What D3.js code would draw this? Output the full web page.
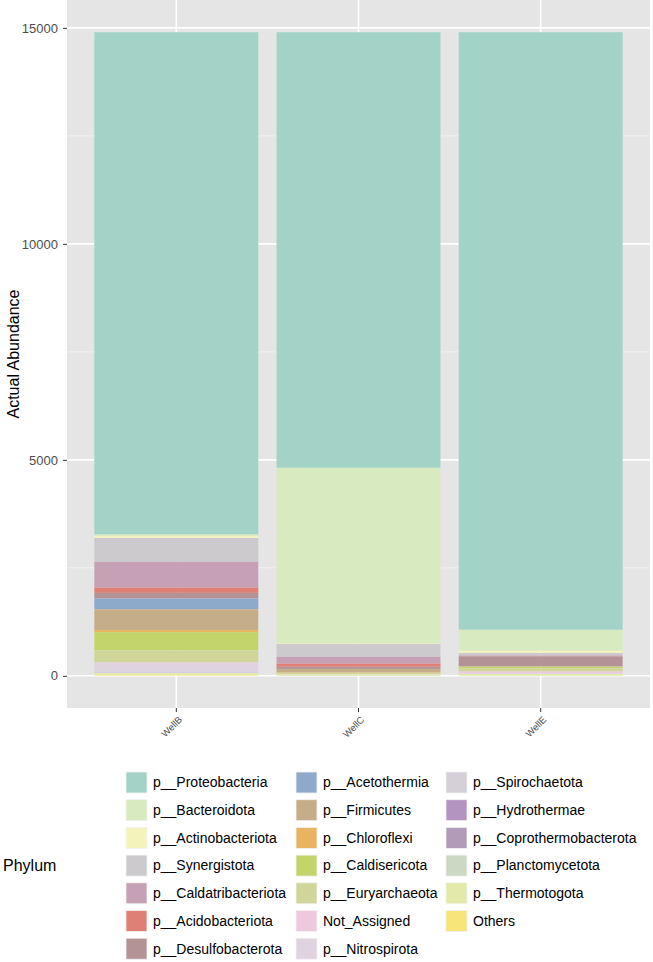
<!DOCTYPE html>
<html>
<head>
<meta charset="utf-8">
<script src="https://cdn.jsdelivr.net/npm/d3@7"></script>
<style>
  body { margin: 0; background: #fff; }
  svg text { font-family: "Liberation Sans", Arial, sans-serif; }
</style>
</head>
<body>
<svg id="drawing_region"></svg>
<script>
// samples along the x axis
const wells = ['WellB', 'WellC', 'WellE'];

// phyla, in legend order (first one is stacked on top)
const phyla = [
    'p__Proteobacteria', 'p__Bacteroidota', 'p__Actinobacteriota', 'p__Synergistota',
    'p__Caldatribacteriota', 'p__Acidobacteriota', 'p__Desulfobacterota', 'p__Acetothermia',
    'p__Firmicutes', 'p__Chloroflexi', 'p__Caldisericota', 'p__Euryarchaeota',
    'Not_Assigned', 'p__Nitrospirota', 'p__Spirochaetota', 'p__Hydrothermae',
    'p__Coprothermobacterota', 'p__Planctomycetota', 'p__Thermotogota', 'Others'
];

// abundance per phylum (same order as phyla)
const wellB = [11630, 40, 40, 550, 600, 120, 130, 250, 480, 50, 420, 280, 10, 200, 40, 0, 0, 0, 50, 10];
const wellC = [10085, 4055, 20, 300, 160, 70, 50, 0, 80, 10, 0, 30, 0, 10, 0, 0, 0, 0, 30, 0];
const wellE = [13835, 485, 50, 60, 10, 10, 230, 0, 10, 0, 40, 70, 40, 20, 0, 0, 0, 0, 40, 0];

const yTicks = [0, 5000, 10000, 15000];
const yMinor = [2500, 7500, 12500];

const phylumColors = [
    '#a3d3c7', '#d8ebc0', '#f4f3bc', '#cccacd',
    '#c6a1b6', '#e07f75', '#b39396', '#8eaacb',
    '#c5ad8a', '#e8b462', '#c3d46b', '#d0d699',
    '#eec8dd', '#e0d3e0', '#d4cfd8', '#b593c1',
    '#b29bb8', '#ccd8c4', '#e2e9a9', '#f8e57a'
];

const wellValues = [wellB, wellC, wellE];
const table = wells.map((w, i) => {
    const row = { well: w };
    phyla.forEach((p, j) => { row[p] = wellValues[i][j]; });
    return row;
});

const config = {
    width: 653,
    height: 962,
    panel: { left: 67, top: 0, width: 583, height: 708 }
};

const svg = d3.select('#drawing_region')
    .attr('width', config.width)
    .attr('height', config.height);

const P = config.panel;

const maxTotal = d3.max(table, d => d3.sum(phyla, p => d[p]));

const xscale = d3.scaleBand()
    .domain(wells)
    .range([P.left, P.left + P.width])
    .paddingInner(0.1)
    .paddingOuter(0.15);

const yscale = d3.scaleLinear()
    .domain([-0.05 * maxTotal, 1.05 * maxTotal])
    .range([P.top + P.height, P.top]);

// panel background
svg.append('rect')
    .attr('x', P.left).attr('y', P.top)
    .attr('width', P.width).attr('height', P.height)
    .attr('fill', '#e5e5e5');

// grid
svg.append('g').selectAll('line')
    .data(yMinor)
    .join('line')
    .attr('x1', P.left).attr('x2', P.left + P.width)
    .attr('y1', d => yscale(d)).attr('y2', d => yscale(d))
    .attr('stroke', '#f2f2f2').attr('stroke-width', 0.8);

svg.append('g').selectAll('line')
    .data(yTicks)
    .join('line')
    .attr('x1', P.left).attr('x2', P.left + P.width)
    .attr('y1', d => yscale(d)).attr('y2', d => yscale(d))
    .attr('stroke', '#fff').attr('stroke-width', 1.6);

svg.append('g').selectAll('line')
    .data(wells)
    .join('line')
    .attr('x1', d => xscale(d) + xscale.bandwidth() / 2)
    .attr('x2', d => xscale(d) + xscale.bandwidth() / 2)
    .attr('y1', P.top).attr('y2', P.top + P.height)
    .attr('stroke', '#fff').attr('stroke-width', 1.6);

// stacked bars, first phylum on top
const stack = d3.stack()
    .keys(phyla)
    .order(d3.stackOrderReverse);

const series = stack(table);

svg.append('g')
    .selectAll('g')
    .data(series)
    .join('g')
    .attr('fill', d => phylumColors[phyla.indexOf(d.key)])
    .selectAll('rect')
    .data(d => d)
    .join('rect')
    .attr('x', d => xscale(d.data.well))
    .attr('width', xscale.bandwidth())
    .attr('y', d => yscale(d[1]))
    .attr('height', d => yscale(d[0]) - yscale(d[1]));

// axes
const yaxis = d3.axisLeft(yscale)
    .tickValues(yTicks)
    .tickFormat(d3.format('d'))
    .tickSize(4)
    .tickPadding(5);

const yaxis_group = svg.append('g')
    .attr('transform', `translate(${P.left}, 0)`)
    .call(yaxis);
yaxis_group.select('.domain').remove();
yaxis_group.selectAll('line').attr('stroke', '#333');
yaxis_group.selectAll('text')
    .attr('fill', '#4d4d4d')
    .style('font-size', '13px');

const xaxis = d3.axisBottom(xscale)
    .tickSize(4)
    .tickFormat('');

const xaxis_group = svg.append('g')
    .attr('transform', `translate(0, ${P.top + P.height})`)
    .call(xaxis);
xaxis_group.select('.domain').remove();
xaxis_group.selectAll('line').attr('stroke', '#333');

svg.append('g').selectAll('text')
    .data(wells)
    .join('text')
    .attr('transform', d => `translate(${xscale(d) + xscale.bandwidth() / 2 + 4}, ${P.top + P.height + 10}) rotate(-45)`)
    .attr('text-anchor', 'end')
    .attr('dy', '0.35em')
    .attr('fill', '#4d4d4d')
    .style('font-size', '9.5px')
    .text(d => d);

// y title
svg.append('text')
    .attr('transform', `translate(13, ${P.top + P.height / 2}) rotate(-90)`)
    .attr('text-anchor', 'middle')
    .attr('dy', '0.35em')
    .style('font-size', '16px')
    .text('Actual Abundance');

// legend
const legend = { x0: 126, colStep: [0, 170, 320], y0: 772, rowStep: 27.7, rows: 7, key: 21 };

const legend_group = svg.append('g');

legend_group.append('text')
    .attr('x', 3)
    .attr('y', legend.y0 + 3 * legend.rowStep + legend.key / 2)
    .attr('dy', '0.35em')
    .style('font-size', '16px')
    .text('Phylum');

const items = legend_group.selectAll('g.item')
    .data(phyla)
    .join('g')
    .attr('class', 'item')
    .attr('transform', (d, i) => {
        const col = Math.floor(i / legend.rows);
        const row = i % legend.rows;
        return `translate(${legend.x0 + legend.colStep[col]}, ${legend.y0 + row * legend.rowStep})`;
    });

items.append('rect')
    .attr('width', legend.key)
    .attr('height', legend.key)
    .attr('fill', (d, i) => phylumColors[i])
    .attr('stroke', '#f2f2f2')
    .attr('stroke-width', 0.8);

items.append('text')
    .attr('x', legend.key + 6)
    .attr('y', legend.key / 2)
    .attr('dy', '0.35em')
    .style('font-size', '14px')
    .text(d => d);
</script>
</body>
</html>
